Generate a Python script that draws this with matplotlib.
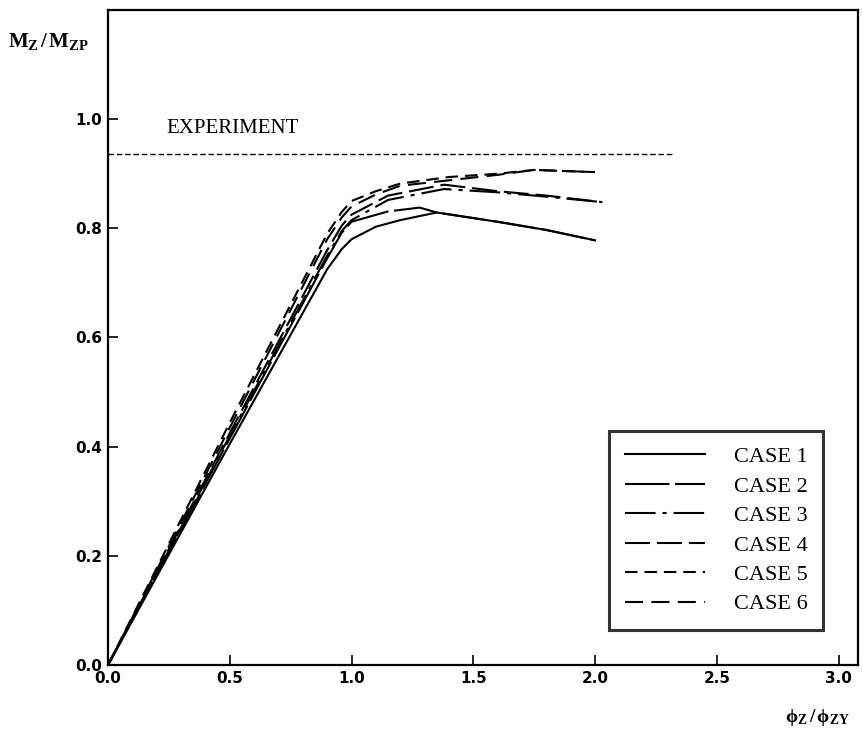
# -*- coding:utf-8 -*-
import numpy as np
import matplotlib.pyplot as plt

plt.rcParams['lines.scale_dashes'] = False
plt.rcParams['mathtext.fontset'] = 'custom'
plt.rcParams['mathtext.rm'] = 'Liberation Serif'
plt.rcParams['mathtext.it'] = 'Liberation Serif:italic'
plt.rcParams['mathtext.bf'] = 'Liberation Serif:bold'

# data
x1 = [0, 0.5, 0.9, 0.96, 1.0, 1.1, 1.2, 1.35, 1.6, 1.8, 2.0]
y1 = [0, 0.405, 0.725, 0.762, 0.78, 0.803, 0.815, 0.829, 0.812, 0.797, 0.778]
x2 = [0, 0.5, 0.9, 0.96, 1.0, 1.15, 1.28, 1.35, 1.6, 1.8, 2.0]
y2 = [0, 0.415, 0.745, 0.792, 0.812, 0.831, 0.838, 0.829, 0.812, 0.797, 0.778]
x3 = [0, 0.5, 0.9, 0.96, 1.0, 1.15, 1.38, 1.6, 1.8, 2.03]
y3 = [0, 0.42, 0.75, 0.795, 0.815, 0.852, 0.872, 0.866, 0.858, 0.848]
x4 = [0, 0.5, 0.9, 0.96, 1.0, 1.15, 1.38, 1.6, 1.8, 2.03]
y4 = [0, 0.425, 0.76, 0.805, 0.825, 0.86, 0.88, 0.868, 0.86, 0.848]
x5 = [0, 0.5, 0.9, 0.96, 1.0, 1.1, 1.2, 1.4, 1.6, 1.75, 2.0]
y5 = [0, 0.444, 0.79, 0.83, 0.85, 0.868, 0.882, 0.894, 0.9, 0.907, 0.903]
x6 = [0, 0.5, 0.9, 0.96, 1.0, 1.1, 1.2, 1.4, 1.6, 1.75, 2.0]
y6 = [0, 0.435, 0.78, 0.82, 0.84, 0.862, 0.878, 0.888, 0.898, 0.907, 0.903]
exp_y = 0.936
exp_xmax = 2.32

cases = [(x1, y1), (x2, y2), (x3, y3), (x4, y4), (x5, y5), (x6, y6)]
labels = ['CASE 1', 'CASE 2', 'CASE 3', 'CASE 4', 'CASE 5', 'CASE 6']
styles = ['-', (0, (32, 4)), (0, (22, 5, 3, 5)), (0, (18, 5)), (0, (9, 5)), (0, (13, 6))]

fig = plt.figure(figsize=(8.63, 7.35), dpi=100)
ax = fig.add_axes([108/863, 70/735, 750/863, 655/735])

for (xs, ys), lab, ls in zip(cases, labels, styles):
    ax.plot(xs, ys, color='black', lw=1.5, linestyle=ls, label=lab)

ax.plot([0, exp_xmax], [exp_y, exp_y], color='black', lw=1.0, linestyle=(0, (4, 2)))
ax.text(0.24, 0.975, 'EXPERIMENT', family='Liberation Serif', fontsize=15)

ax.set_xlim(0, 3.08)
ax.set_ylim(0, 1.2)
ax.set_xticks(np.arange(0, 3.01, 0.5))
ax.set_yticks(np.arange(0, 1.01, 0.2))
ax.set_xticklabels(['%.1f' % v for v in np.arange(0, 3.01, 0.5)])
ax.set_yticklabels(['%.1f' % v for v in np.arange(0, 1.01, 0.2)])
ax.tick_params(direction='in', length=7, width=1.2, labelsize=11, pad=4)
for lab in ax.get_xticklabels() + ax.get_yticklabels():
    lab.set_fontweight('bold')
for sp in ax.spines.values():
    sp.set_linewidth(1.6)

leg = ax.legend(loc='lower right', bbox_to_anchor=(823/863, 105/735),
                bbox_transform=fig.transFigure, prop={'family': 'Liberation Serif', 'size': 16},
                frameon=True, fancybox=False, edgecolor='black', handlelength=3.6,
                labelspacing=0.40, borderpad=0.7, handletextpad=1.3, borderaxespad=0)
leg.get_frame().set_linewidth(2.2)

fig.text(8/863, 1 - 47/735, r'$\mathbf{M_Z\,/\,M_{ZP}}$', fontsize=15)
fig.text(785/863, 1 - 722/735, r'$\mathbf{\phi_Z\,/\,\phi_{ZY}}$', fontsize=14)

fig.savefig('out.png', dpi=100)
